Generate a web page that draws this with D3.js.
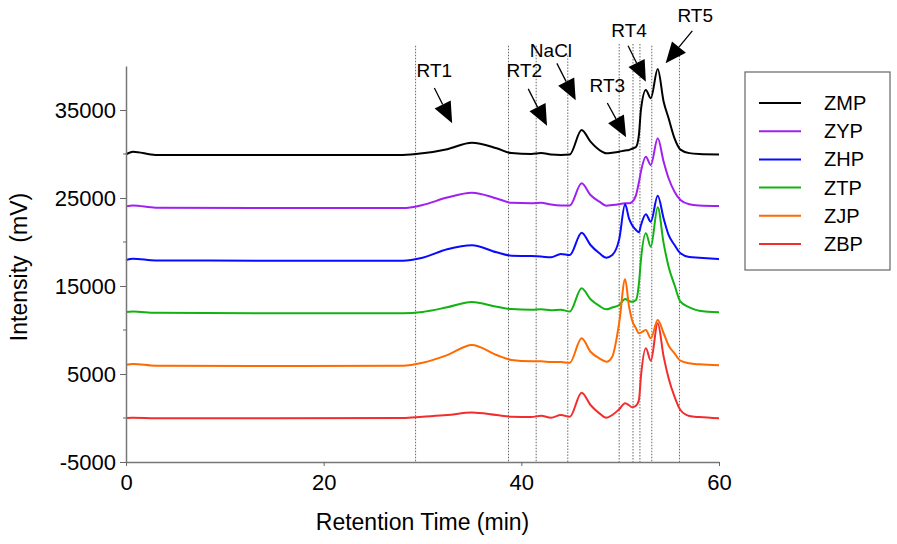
<!DOCTYPE html>
<html>
<head>
<meta charset="utf-8">
<script src="https://cdn.jsdelivr.net/npm/d3@7"></script>
<style>
  body { margin: 0; background: #fff; }
  svg { font-family: "Liberation Sans", Arial, sans-serif; }
</style>
</head>
<body>
<svg id="chart" width="897" height="544"></svg>
<script>
const times = [0, 0.7, 3, 15, 28, 30, 32.5, 35, 37.5, 39, 41, 42, 43, 44, 44.9, 46.1, 47.0, 47.9, 48.6, 49.2,
  49.9, 50.5, 50.9, 51.2, 51.6, 51.9, 52.1, 52.6, 53.1, 53.8, 54.4, 54.9, 55.5, 56.1, 57.0, 58.0, 60];

const zmp = [29950, 30250, 29900, 29900, 29900, 30080, 30550, 31280, 30650, 30100, 30000, 30100, 29950, 29900, 29950, 32730, 31400, 30450, 30080, 30150,
  30260, 30400, 30450, 30600, 30800, 32200, 35000, 37270, 36330, 39660, 35940, 34060, 31780, 30500, 30100, 30000, 29950];
const zyp = [24050, 24150, 23900, 23850, 23850, 24200, 25050, 25600, 24950, 24450, 24400, 24450, 24250, 24150, 24150, 26670, 25340, 24580, 24130, 24200,
  24300, 24400, 24400, 24550, 25300, 26800, 28000, 29690, 28750, 31780, 29120, 27240, 25720, 24770, 24280, 24150, 24080];
const zhp = [17950, 18100, 17900, 17880, 17880, 18220, 19170, 19630, 18830, 18440, 18400, 18350, 18260, 18640, 18520, 21060, 19660, 18720, 18220, 18520,
  20300, 24280, 22660, 21930, 21360, 21100, 21900, 23150, 22300, 25260, 22660, 20800, 19660, 18720, 18300, 18220, 18050];
const ztp = [12050, 12100, 11950, 11900, 11900, 12050, 12580, 13180, 12650, 12380, 12300, 12350, 12250, 12300, 12100, 14740, 13490, 12730, 12350, 12550,
  12840, 13520, 13300, 13200, 13400, 15300, 17950, 20990, 19470, 23940, 19850, 17200, 15110, 13220, 12580, 12200, 12020];
const zjp = [6050, 6150, 5950, 5900, 5950, 6280, 7150, 8300, 7160, 6600, 6450, 6450, 6350, 6350, 6280, 9060, 7530, 6780, 6400, 6970,
  10800, 15760, 12650, 11140, 10190, 9630, 9700, 10000, 9060, 11140, 9630, 8240, 7350, 6510, 6220, 6100, 6000];
const zbp = [0, 30, -20, -30, 0, 150, 340, 620, 330, 150, 120, 250, 40, 340, 150, 2875, 1480, 530, 30, 340,
  1000, 1670, 1450, 1220, 1400, 2050, 4700, 7920, 6510, 10760, 6970, 4510, 2420, 910, 230, 100, -30];

const seriesNames = ['ZMP', 'ZYP', 'ZHP', 'ZTP', 'ZJP', 'ZBP'];
const seriesValues = [zmp, zyp, zhp, ztp, zjp, zbp];
const seriesColors = ['#000000', '#a020f0', '#0a0aff', '#11b311', '#ff6a00', '#f22d2d'];

const yTicks = [-5000, 5000, 15000, 25000, 35000];
const yMinor = [0, 10000, 20000, 30000];
const xTicks = [0, 20, 40, 60];

// dotted marker lines (min)
const markerTimes = [29.3, 38.7, 41.5, 44.7, 49.9, 51.3, 52.0, 53.2, 56.0];
const markerTops = [42300, 42300, 42300, 41200, 42500, 42500, 42500, 42300, 41500];

// peak labels: text anchor, arrow tail, arrow tip (time, intensity)
const peakLabels = ['RT1', 'RT2', 'NaCl', 'RT3', 'RT4', 'RT5'];
const labelPos = [[31.2, 39500], [40.3, 39500], [43.0, 41800], [48.7, 37800], [50.9, 44100], [57.6, 45800]];
const arrowTail = [[31.2, 37500], [40.7, 37400], [43.6, 40300], [48.7, 35800], [50.8, 42300], [57.3, 44000]];
const arrowTip = [[33.0, 33500], [42.6, 33200], [45.5, 36100], [50.6, 31900], [52.6, 38200], [54.6, 40300]];

const svg = d3.select('#chart');
const margin = { left: 126, top: 66 };
const width = 593, height = 396;

const x = d3.scaleLinear().domain([0, 60]).range([margin.left, margin.left + width]);
const y = d3.scaleLinear().domain([-5000, 40000]).range([margin.top + height, margin.top]);

// dotted lines
svg.append('g')
  .selectAll('line')
  .data(markerTimes)
  .enter()
  .append('line')
  .attr('x1', d => x(d)).attr('x2', d => x(d))
  .attr('y1', (d, i) => y(markerTops[i]))
  .attr('y2', y(-5000))
  .attr('stroke', '#666')
  .attr('stroke-width', 1)
  .attr('stroke-dasharray', '1.5,1.5');

// traces
const line = d3.line()
  .x((d, i) => x(times[i]))
  .y(d => y(d))
  .curve(d3.curveMonotoneX);

svg.append('g')
  .selectAll('path')
  .data(seriesValues)
  .enter()
  .append('path')
  .attr('d', line)
  .attr('fill', 'none')
  .attr('stroke', (d, i) => seriesColors[i])
  .attr('stroke-width', 2)
  .attr('stroke-linejoin', 'round');

// axes
const yAxis = svg.append('g')
  .attr('transform', `translate(${margin.left},0)`)
  .call(d3.axisLeft(y).tickValues(yTicks).tickFormat(d => String(d)).tickSize(6).tickSizeOuter(0).tickPadding(4));
yAxis.selectAll('.tick line').attr('stroke', '#666');
yAxis.selectAll('.tick text').attr('font-size', 22).attr('fill', '#000');
yAxis.select('.domain').attr('stroke', '#777').attr('stroke-width', 1.5);

svg.append('g')
  .selectAll('line')
  .data(yMinor)
  .enter()
  .append('line')
  .attr('x1', margin.left - 3).attr('x2', margin.left)
  .attr('y1', d => y(d)).attr('y2', d => y(d))
  .attr('stroke', '#666');

const xAxis = svg.append('g')
  .attr('transform', `translate(0,${margin.top + height})`)
  .call(d3.axisBottom(x).tickValues(xTicks).tickSize(4).tickSizeOuter(0).tickPadding(8));
xAxis.selectAll('.tick line').attr('stroke', '#666');
xAxis.selectAll('.tick text').attr('font-size', 22).attr('fill', '#000');
xAxis.select('.domain').attr('stroke', '#777').attr('stroke-width', 1.5);

svg.append('text')
  .attr('x', x(30))
  .attr('y', 530)
  .attr('text-anchor', 'middle')
  .attr('font-size', 23)
  .text('Retention Time (min)');

svg.append('text')
  .attr('transform', 'translate(27,267) rotate(-90)')
  .attr('text-anchor', 'middle')
  .attr('font-size', 23)
  .attr('xml:space', 'preserve')
  .text('Intensity  (mV)');

// arrows + labels
const ann = svg.append('g');
peakLabels.forEach((lab, i) => {
  const tx = x(arrowTail[i][0]), ty = y(arrowTail[i][1]);
  const hx = x(arrowTip[i][0]), hy = y(arrowTip[i][1]);
  const ang = Math.atan2(hy - ty, hx - tx);
  const len = 21, half = 9;
  const bx = hx - len * Math.cos(ang), by = hy - len * Math.sin(ang);
  ann.append('line')
    .attr('x1', tx).attr('y1', ty).attr('x2', bx).attr('y2', by)
    .attr('stroke', '#000').attr('stroke-width', 1.3);
  ann.append('path')
    .attr('d', `M${hx},${hy}L${bx + half * Math.sin(ang)},${by - half * Math.cos(ang)}L${bx - half * Math.sin(ang)},${by + half * Math.cos(ang)}Z`)
    .attr('fill', '#000');
  ann.append('text')
    .attr('x', x(labelPos[i][0]))
    .attr('y', y(labelPos[i][1]))
    .attr('dy', '0.35em')
    .attr('text-anchor', 'middle')
    .attr('font-size', 19)
    .text(lab);
});

// legend
const legend = svg.append('g');
legend.append('rect')
  .attr('x', 745).attr('y', 72).attr('width', 145).attr('height', 198)
  .attr('fill', '#fff').attr('stroke', '#666').attr('stroke-width', 1.2);
const legendY = d3.scalePoint().domain(seriesNames).range([103, 244]);
seriesNames.forEach((name, i) => {
  legend.append('line')
    .attr('x1', 759).attr('x2', 801)
    .attr('y1', legendY(name)).attr('y2', legendY(name))
    .attr('stroke', seriesColors[i]).attr('stroke-width', 2);
  legend.append('text')
    .attr('x', 824).attr('y', legendY(name))
    .attr('dy', '0.35em')
    .attr('font-size', 20)
    .text(name);
});
</script>
</body>
</html>
